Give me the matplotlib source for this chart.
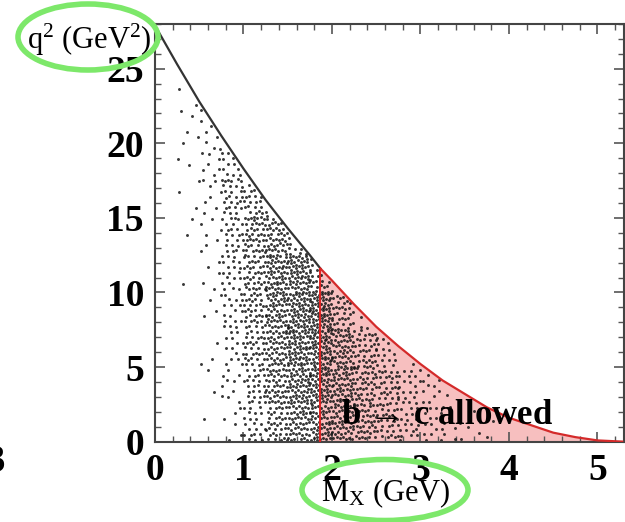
import matplotlib
matplotlib.use("Agg")
import matplotlib.pyplot as plt
from matplotlib.patches import Ellipse
from matplotlib.ticker import MultipleLocator
import numpy as np

plt.rcParams['font.family'] = ['Liberation Serif', 'DejaVu Serif']
plt.rcParams['mathtext.fontset'] = 'custom'
plt.rcParams['mathtext.rm'] = 'Liberation Serif'
plt.rcParams['mathtext.it'] = 'Liberation Serif:italic'

# kinematic boundary q2_max(M_X)
mx_edge = [0.0, 0.25, 0.5, 0.75, 1.0, 1.25, 1.5, 1.75, 1.87, 2.0, 2.25, 2.5,
           2.75, 3.0, 3.25, 3.5, 3.75, 4.0, 4.25, 4.5, 4.75, 5.0, 5.28]
q2_edge = [27.9, 25.3, 22.8, 20.5, 18.3, 16.2, 14.3, 12.5, 11.6, 10.8, 9.2, 7.7,
           6.4, 5.2, 4.1, 3.2, 2.3, 1.6, 1.1, 0.6, 0.3, 0.08, 0.0]
m_charm = 1.87  # start of the b -> c region

# estimated number of dots per cell (M_X bins of 0.25 GeV, q2 bins of 2.5 GeV2)
mx_bin = 0.25
q2_bin = 2.5
dots_per_cell = [
    [0, 0, 0, 0, 0, 0, 0, 0, 0, 0],
    [0, 0, 0, 0, 1, 2, 2, 3, 4, 4],
    [1, 2, 3, 4, 5, 6, 8, 10, 7, 0],
    [6, 10, 14, 18, 20, 24, 26, 18, 2],
    [22, 28, 32, 36, 38, 40, 30, 2],
    [36, 46, 50, 54, 56, 48, 6],
    [50, 60, 64, 66, 62, 20],
    [56, 66, 70, 70, 34],
    [52, 56, 52, 36, 3],
    [42, 42, 36, 10],
    [32, 32, 20],
    [22, 20, 5],
    [15, 12],
    [10, 5],
    [5, 1],
    [3],
]

# spread the counted dots inside their cells (quasi-regular R2 placement)
xs, ys = [], []
a1, a2 = 0.7548776662, 0.5698402910
for i, col in enumerate(dots_per_cell):
    for j, n in enumerate(col):
        s1 = (i * 0.618034 + j * 0.414214) % 1
        s2 = (i * 0.302775 + j * 0.732051) % 1
        for k in range(n):
            u = (s1 + k * a1) % 1
            v = (s2 + k * a2) % 1
            xs.append((i + u) * mx_bin)
            ys.append((j + v) * q2_bin)
xs = np.array(xs)
ys = np.array(ys)
keep = (ys > 0.08) & (xs > 0) & (ys < np.interp(xs, mx_edge, q2_edge) - 0.15)
xs, ys = xs[keep], ys[keep]

fig = plt.figure(figsize=(6.25, 5.22), dpi=100)
ax = fig.add_axes([155 / 625, 1 - 441.6 / 522, 469 / 625, 417.6 / 522])

mx_arr = np.array(mx_edge)
q2_arr = np.array(q2_edge)
red = mx_arr >= m_charm
ax.fill_between(mx_arr[red], 0, q2_arr[red], color='#f7bfbf', lw=0, zorder=1)
ax.scatter(xs, ys, s=4.5, color='#151515', alpha=0.85, linewidths=0, zorder=2)
ax.plot(mx_arr[mx_arr <= m_charm], q2_arr[mx_arr <= m_charm], color='#333333', lw=1.6, zorder=3)
ax.plot(mx_arr[red], q2_arr[red], color='#d42a2a', lw=1.6, zorder=3)
ax.plot([m_charm, m_charm], [0, q2_edge[mx_edge.index(m_charm)]], color='#e02020', lw=1.4, zorder=3)

ax.text(3.3, 1.75, r'b$\,\rightarrow\,$c allowed', fontsize=25, fontweight='bold',
        ha='center', va='center', zorder=4)

ax.set_xlim(0, 5.3)
ax.set_ylim(0, 28)
ax.xaxis.set_major_locator(MultipleLocator(1))
ax.xaxis.set_minor_locator(MultipleLocator(0.2))
ax.yaxis.set_major_locator(MultipleLocator(5))
ax.yaxis.set_minor_locator(MultipleLocator(1))
ax.tick_params(which='both', direction='in', top=True, right=True, color='#555555')
ax.tick_params(which='major', length=7, width=1.2, labelsize=27, pad=8)
ax.tick_params(which='minor', length=4, width=1.0)
for lab in ax.get_xticklabels() + ax.get_yticklabels():
    lab.set_fontweight('bold')
for sp in ax.spines.values():
    sp.set_color('#444444')
    sp.set_linewidth(1.5)

# axis titles with green ellipses
fig.text(89 / 625, 1 - 40 / 522, 'q$^2$ (GeV$^2$)', fontsize=22, ha='center', va='center')
fig.text(386 / 625, 1 - 493 / 522, r'M$_\mathrm{X}$ (GeV)', fontsize=22, ha='center', va='center')
green = '#7de86a'
fig.patches.append(Ellipse((88 / 625, 1 - 37 / 522), 140 / 625, 66 / 522, fill=False,
                           ec=green, lw=4, transform=fig.transFigure, figure=fig))
fig.patches.append(Ellipse((385 / 625, 1 - 490 / 522), 166 / 625, 61 / 522, fill=False,
                           ec=green, lw=4, transform=fig.transFigure, figure=fig))

# clipped digit at the left border
fig.text(5 / 625, 1 - 462 / 522, '3', fontsize=28, fontweight='bold', ha='right', va='center')

fig.savefig('out.png', dpi=100)
